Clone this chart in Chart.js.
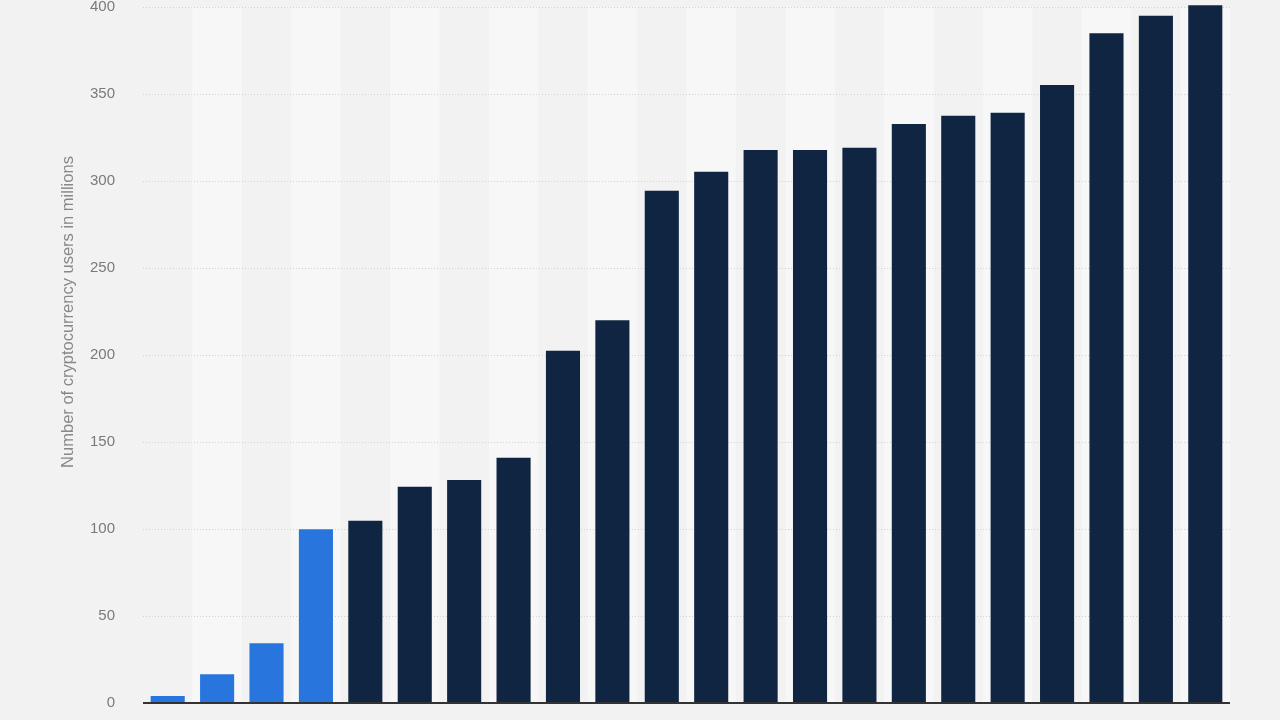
<!DOCTYPE html>
<html lang="en">
    <head>
        <script src="https://cdn.jsdelivr.net/npm/chart.js@4.4.0/dist/chart.umd.min.js"></script>
        <meta charset="UTF-8"/>
        <title>Number of cryptocurrency users</title>
        <style>
            html, body { margin: 0; padding: 0; background: #f2f2f2; }
            #wrap { width: 1280px; height: 720px; }
        </style>
    </head>
    <body>
        <div id="wrap"><canvas id="chart"></canvas></div>

        <script>
            // x labels are cut off in the reference, so they stay hidden
            const periods = ['P1', 'P2', 'P3', 'P4', 'P5', 'P6', 'P7', 'P8', 'P9', 'P10', 'P11',
                             'P12', 'P13', 'P14', 'P15', 'P16', 'P17', 'P18', 'P19', 'P20', 'P21', 'P22'];
            const users = [4, 16.5, 34.3, 99.9, 104.8, 124.3, 128.2, 141, 202.5, 220, 294.4,
                           305.3, 317.8, 317.8, 319.1, 332.8, 337.5, 339.2, 355.2, 384.9, 395, 401];
            const highlighted = 4; // first bars drawn in light blue
            const yTicks = [0, 50, 100, 150, 200, 250, 300, 350, 400];
            const yTitle = 'Number of cryptocurrency users in millions';

            const barColors = users.map((v, i) => i < highlighted ? '#2876dd' : '#0f2541');

            // light stripes behind every second category
            const stripes = {
                id: 'stripes',
                beforeDatasetsDraw(chart) {
                    const { ctx, chartArea, scales } = chart;
                    const x = scales.x;
                    const step = (chartArea.right - chartArea.left) / periods.length;
                    ctx.save();
                    ctx.fillStyle = '#f7f7f7';
                    periods.forEach((p, i) => {
                        if (i % 2 === 1) {
                            const c = x.getPixelForValue(i);
                            ctx.fillRect(c - step / 2, chartArea.top, step, chartArea.bottom - chartArea.top);
                        }
                    });
                    ctx.restore();
                }
            };

            // dotted grid + solid base line
            const grid = {
                id: 'grid',
                beforeDatasetsDraw(chart) {
                    const { ctx, chartArea, scales } = chart;
                    ctx.save();
                    ctx.strokeStyle = '#d2d2d2';
                    ctx.lineWidth = 1;
                    ctx.setLineDash([1, 2]);
                    yTicks.forEach(t => {
                        if (t === 0) return;
                        const y = Math.round(scales.y.getPixelForValue(t)) + 0.5;
                        ctx.beginPath();
                        ctx.moveTo(chartArea.left, y);
                        ctx.lineTo(chartArea.right, y);
                        ctx.stroke();
                    });
                    ctx.restore();
                },
                afterDatasetsDraw(chart) {
                    const { ctx, chartArea, scales } = chart;
                    const y = scales.y.getPixelForValue(0);
                    ctx.save();
                    ctx.strokeStyle = '#333333';
                    ctx.lineWidth = 2;
                    ctx.beginPath();
                    ctx.moveTo(chartArea.left, y);
                    ctx.lineTo(chartArea.right, y);
                    ctx.stroke();
                    ctx.restore();
                }
            };

            // axis title sits a bit above the plot's middle in the reference
            const axisTitle = {
                id: 'axisTitle',
                afterDraw(chart) {
                    const { ctx } = chart;
                    ctx.save();
                    ctx.translate(68, 312);
                    ctx.rotate(-Math.PI / 2);
                    ctx.font = '16.5px "Liberation Sans", Arial, sans-serif';
                    ctx.fillStyle = '#888888';
                    ctx.textAlign = 'center';
                    ctx.textBaseline = 'middle';
                    ctx.fillText(yTitle, 0, 0);
                    ctx.restore();
                }
            };

            const ctx = document.getElementById('chart').getContext('2d');
            const myChart = new Chart(ctx, {
                type: 'bar',
                data: {
                    labels: periods,
                    datasets: [{
                        label: yTitle,
                        data: users,
                        backgroundColor: barColors,
                        borderWidth: 0,
                        barPercentage: 1,
                        categoryPercentage: 0.69,
                        clip: false
                    }]
                },
                options: {
                    responsive: true,
                    maintainAspectRatio: false,
                    animation: false,
                    layout: { padding: { top: 7, right: 50, bottom: 17, left: 0 } },
                    plugins: {
                        legend: { display: false },
                        tooltip: { enabled: false }
                    },
                    scales: {
                        x: {
                            display: false
                        },
                        y: {
                            min: 0,
                            max: 400,
                            afterFit: scale => {
                                scale.width = 143;
                                scale.paddingTop = 0;
                                scale.paddingBottom = 0;
                            },
                            afterBuildTicks: scale => { scale.ticks = yTicks.map(v => ({ value: v })); },
                            grid: { display: false, drawTicks: false },
                            border: { display: false },
                            ticks: {
                                padding: 28,
                                color: '#7a7a7a',
                                font: { size: 15, family: '"Liberation Sans", Arial, sans-serif' }
                            }
                        }
                    }
                },
                plugins: [stripes, grid, axisTitle]
            });
        </script>
    </body>
</html>
